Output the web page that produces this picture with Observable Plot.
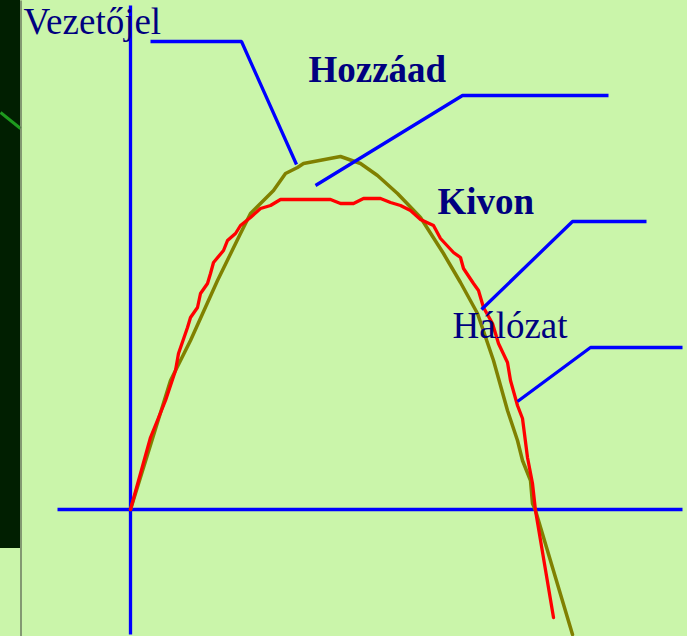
<!DOCTYPE html>
<html>
<head>
<meta charset="utf-8">
<script src="https://cdn.jsdelivr.net/npm/d3@7"></script>
<script src="https://cdn.jsdelivr.net/npm/@observablehq/plot@0.6"></script>
<style>
  html, body { margin: 0; padding: 0; background: #caf5aa; }
  #chart svg { display: block; }
</style>
</head>
<body>
<div id="chart"></div>
<script>
// Coordinates: origin at the axes crossing, units ≈ pixels in the reference
const olivePts = [
  [0,0],[40,129],[60,169],[87,229],[110,276],[120,296],[143,319],[155,336],
  [167,342],[173,346],[210,353],[230,346],[247,334],[267,316],[290,292],
  [313,256],[330,227],[347,196],[363,149],[377,99],[387,69],[392,49],
  [400,29],[402,6],[405,-1],[442,-125]
];
const redPts = [
  [0,0],[20,72],[35,109],[45,139],[48,156],[57,182],[60,192],[67,202],[70,216],
  [77,226],[80,236],[83,247],[93,259],[97,269],[105,276],[110,284],[120,292],
  [130,301],[140,304],[150,310],[200,310],[210,306],[223,306],[233,311],
  [250,311],[260,307],[270,304],[280,299],[290,290],[303,284],[310,271],
  [323,257],[330,252],[333,241],[343,226],[348,219],[353,202],[362,186],
  [368,166],[377,147],[380,129],[387,104],[392,91],[397,52],[402,26],
  [405,-1],[423,-108]
];
const axisV = [[0,504],[0,-125]];
const axisH = [[-73,0],[552,0]];
const leaderVezetojel = [[20,468],[111,468],[166,345]];
const leaderHozzaad = [[478,414],[332,414],[185,324]];
const leaderKivon = [[516,288],[442,288],[351,200]];
const leaderHalozat = [[552,162],[460,162],[387,108]];
const labels = [
  {text: "Vezetőjel", x: -107, y: 476, bold: false},
  {text: "Hozzáad", x: 178, y: 428, bold: true},
  {text: "Kivon", x: 307, y: 296, bold: true},
  {text: "Hálózat", x: 322, y: 172, bold: false}
];
const darkStrip = [{x1: -130, x2: -110, y1: -39, y2: 509}];
const stripAccent = [[-130,397],[-110,381]];
const stripEdge = [[-109.5,509],[-109.5,-127]];

const blue = "#0000ff";
const chart = Plot.plot({
  width: 687,
  height: 636,
  margin: 0,
  x: {domain: [-130, 557], range: [0, 687], axis: null},
  y: {domain: [-127, 509], range: [636, 0], axis: null},
  style: {background: "#caf5aa", fontFamily: "'Liberation Serif', 'Times New Roman', serif"},
  marks: [
    Plot.rect(darkStrip, {x1: "x1", x2: "x2", y1: "y1", y2: "y2", fill: "#011f01"}),
    Plot.line(stripAccent, {stroke: "#1e9a1e", strokeWidth: 3, strokeLinecap: "butt"}),
    Plot.line(stripEdge, {stroke: "#6b7a5f", strokeWidth: 1.5, strokeLinecap: "butt"}),
    Plot.line(axisV, {stroke: blue, strokeWidth: 3.3, strokeLinecap: "butt"}),
    Plot.line(axisH, {stroke: blue, strokeWidth: 3.3, strokeLinecap: "butt"}),
    Plot.line(olivePts, {stroke: "#808000", strokeWidth: 3.5, curve: "linear"}),
    Plot.line(redPts, {stroke: "#ff0000", strokeWidth: 3.3, curve: "linear"}),
    Plot.line(leaderVezetojel, {stroke: blue, strokeWidth: 3.3, strokeLinecap: "butt", strokeLinejoin: "miter"}),
    Plot.line(leaderHozzaad, {stroke: blue, strokeWidth: 3.3, strokeLinecap: "butt", strokeLinejoin: "miter"}),
    Plot.line(leaderKivon, {stroke: blue, strokeWidth: 3.3, strokeLinecap: "butt", strokeLinejoin: "miter"}),
    Plot.line(leaderHalozat, {stroke: blue, strokeWidth: 3.3, strokeLinecap: "butt", strokeLinejoin: "miter"}),
    Plot.text(labels.filter(d => !d.bold), {x: "x", y: "y", text: "text", textAnchor: "start", lineAnchor: "bottom", fontSize: 37, fill: "#000080"}),
    Plot.text(labels.filter(d => d.bold), {x: "x", y: "y", text: "text", textAnchor: "start", lineAnchor: "bottom", fontSize: 37, fontWeight: "bold", fill: "#000080"})
  ]
});
document.getElementById("chart").appendChild(chart);
</script>
</body>
</html>
